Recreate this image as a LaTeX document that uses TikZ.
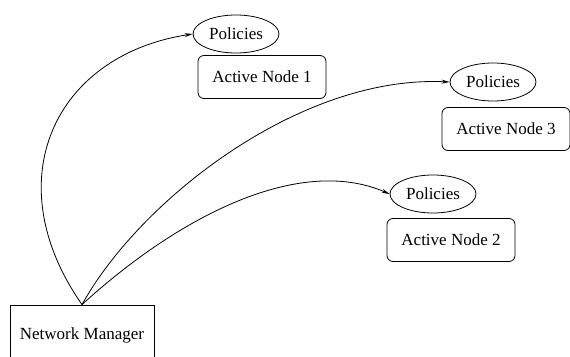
\documentclass[tikz,border=0pt]{standalone}
\usepackage{fontspec}
\setmainfont{Liberation Serif}
\usetikzlibrary{shapes.geometric,arrows.meta}

\begin{document}
\begin{tikzpicture}[x=1pt,y=-1pt,font=\fontsize{17pt}{20pt}\selectfont,
        policy/.style={draw,ellipse,line width=0.8pt,minimum width=86pt,minimum height=38pt,inner sep=0pt},
        anode/.style={draw,rounded corners=6pt,line width=0.8pt,minimum width=128pt,minimum height=43pt,inner sep=0pt},
        link/.style={-{Stealth[length=8pt,width=4pt]},line width=0.8pt}]
        \useasboundingbox (0,0) rectangle (570,356);
        \clip (0,0) rectangle (570,356);
        \node[policy] (pol1) at (236,34) {Policies};
        \node[anode] (node1) at (262,77) {Active Node 1};
        \node[policy] (pol3) at (493,82) {Policies};
        \node[anode] (node3) at (506,129) {Active Node 3};
        \node[policy] (pol2) at (433,194) {Policies};
        \node[anode] (node2) at (451,240) {Active Node 2};
        \node[draw,line width=0.8pt,minimum width=144pt,minimum height=60pt] (manager) at (82,335) {Network Manager};
        \draw[link] (manager.north) .. controls (-5,180) and (55,55) .. (pol1.west);
        \draw[link] (manager.north) .. controls (140,200) and (300,75) .. (pol3.west);
        \draw[link] (manager.north) .. controls (180,215) and (300,155) .. (pol2.west);
    \end{tikzpicture}
\end{document}
